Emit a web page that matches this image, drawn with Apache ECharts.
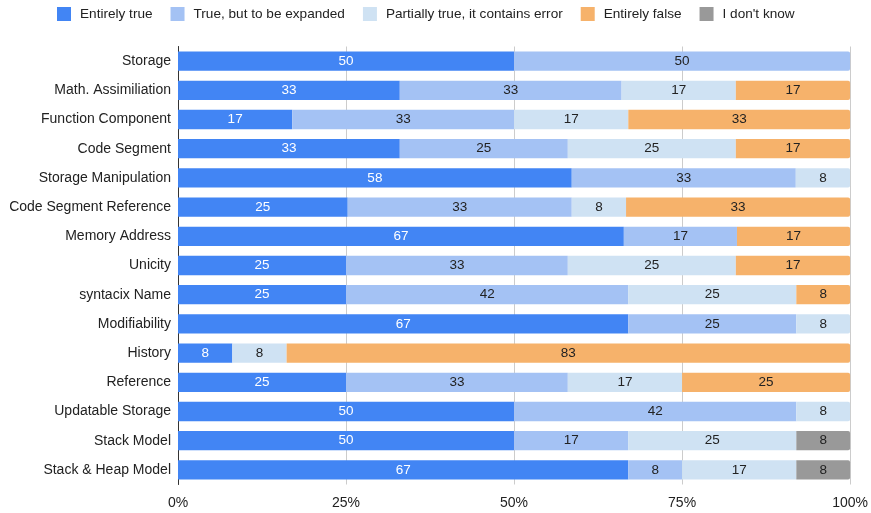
<!DOCTYPE html>
<html>
<head>
<meta charset="utf-8">
<script src="https://cdn.jsdelivr.net/npm/echarts@6/dist/echarts.min.js"></script>
<style>
  html, body { margin: 0; padding: 0; background: #fff; }
  #chart { width: 871px; height: 513px; }
</style>
</head>
<body>
<div id="chart"></div>
<script>
// Categories, top to bottom
const categories = [
  'Storage', 'Math. Assimiliation', 'Function Component', 'Code Segment',
  'Storage Manipulation', 'Code Segment Reference', 'Memory Address', 'Unicity',
  'syntacix Name', 'Modifiability', 'History', 'Reference',
  'Updatable Storage', 'Stack Model', 'Stack & Heap Model'
];

// Answer shares per category (percent, as labelled)
const entirelyTrue     = [50, 33, 17, 33, 58, 25, 67, 25, 25, 67, 8, 25, 50, 50, 67];
const trueToExpand     = [50, 33, 33, 25, 33, 33, 17, 33, 42, 25, 0, 33, 42, 17, 8];
const partiallyTrue    = [0, 17, 17, 25, 8, 8, 0, 25, 25, 8, 8, 17, 8, 25, 17];
const entirelyFalse    = [0, 17, 33, 17, 0, 33, 17, 17, 8, 0, 83, 25, 0, 0, 0];
const dontKnow         = [0, 0, 0, 0, 0, 0, 0, 0, 0, 0, 0, 0, 0, 8, 8];

const axisTicks = [0, 25, 50, 75, 100];

const seriesDefs = [
  { name: 'Entirely true', data: entirelyTrue, color: '#4285f4', label: '#ffffff' },
  { name: 'True, but to be expanded', data: trueToExpand, color: '#a4c2f4', label: '#222222' },
  { name: 'Partially true, it contains error', data: partiallyTrue, color: '#cfe2f3', label: '#222222' },
  { name: 'Entirely false', data: entirelyFalse, color: '#f6b26b', label: '#222222' },
  { name: "I don't know", data: dontKnow, color: '#999999', label: '#222222' }
];

// Each row is shown as a 100% stack
const rowTotals = categories.map((_, i) =>
  seriesDefs.reduce((s, d) => s + d.data[i], 0));

// Index of the last non-empty segment of each row (gets rounded end)
const lastSeg = categories.map((_, i) => {
  let last = 0;
  seriesDefs.forEach((d, k) => { if (d.data[i] > 0) last = k; });
  return last;
});

const font = 'Liberation Sans, Arial, sans-serif';

const series = seriesDefs.map((d, k) => ({
  name: d.name,
  type: 'bar',
  stack: 'total',
  barCategoryGap: '34%',
  itemStyle: { color: d.color },
  label: {
    show: true,
    position: 'inside',
    color: d.label,
    fontFamily: font,
    fontSize: 13.5,
    formatter: p => p.data.raw
  },
  data: d.data.map((v, i) => v > 0 ? {
    value: v / rowTotals[i] * 100,
    raw: v,
    itemStyle: lastSeg[i] === k ? { borderRadius: [0, 2, 2, 0] } : undefined
  } : { value: null, raw: v })
}));

const chart = echarts.init(document.getElementById('chart'), null, { renderer: 'canvas' });
chart.setOption({
  animation: false,
  legend: {
    left: 57,
    top: 7,
    padding: 0,
    itemWidth: 14,
    itemHeight: 14,
    itemGap: 18,
    icon: 'rect',
    textStyle: { fontFamily: font, fontSize: 13.6, color: '#222', padding: [0, 0, 0, 4] },
    data: seriesDefs.map(d => d.name)
  },
  grid: { left: 178, right: 17, top: 46.5, bottom: 28.5, containLabel: false },
  xAxis: {
    type: 'value',
    min: axisTicks[0],
    max: axisTicks[axisTicks.length - 1],
    interval: 25,
    axisLine: { show: false },
    axisTick: { show: false },
    splitLine: { show: true, lineStyle: { color: '#cccccc', width: 1 } },
    axisLabel: {
      formatter: v => v + '%',
      fontFamily: font, fontSize: 14, color: '#222', margin: 12
    }
  },
  yAxis: {
    type: 'category',
    inverse: true,
    data: categories,
    axisLine: { show: true, lineStyle: { color: '#333333', width: 1 } },
    axisTick: { show: false },
    axisLabel: { fontFamily: font, fontSize: 14, color: '#222', margin: 7 }
  },
  series: series
});
</script>
</body>
</html>
